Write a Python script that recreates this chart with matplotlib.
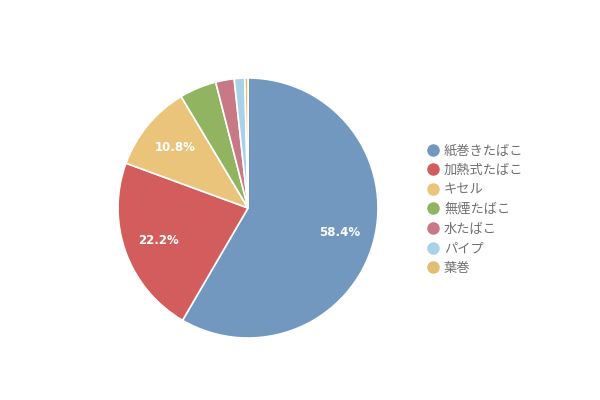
import matplotlib
matplotlib.use('Agg')
import matplotlib.pyplot as plt
from matplotlib.lines import Line2D

plt.rcParams['font.family'] = ['Noto Sans CJK JP', 'DejaVu Sans']

# data
labels = ['紙巻きたばこ', '加熱式たばこ', 'キセル', '無煙たばこ', '水たばこ', 'パイプ', '葉巻']
values = [58.4, 22.2, 10.8, 4.6, 2.3, 1.3, 0.4]
colors = ['#7298bf', '#d35d5c', '#e9c47a', '#91b461', '#c97985', '#a9d2e8', '#e3bd72']

fig = plt.figure(figsize=(6, 4), dpi=100)
ax = fig.add_axes([118 / 600, 62 / 400, 260 / 600, 260 / 400])

def fmt(p):
    return '%.1f%%' % p if p > 8 else ''

wedges, texts, autotexts = ax.pie(values, colors=colors, startangle=90, counterclock=False,
                                  autopct=fmt, pctdistance=0.73,
                                  wedgeprops=dict(edgecolor='white', linewidth=1.2))
for t in autotexts:
    t.set_color('white')
    t.set_fontsize(8.5)
    t.set_fontweight('bold')
    t.set_family(['DejaVu Sans'])
ax.set_aspect('equal')
ax.set_xlim(-1, 1)
ax.set_ylim(-1, 1)

# legend
handles = [Line2D([], [], marker='o', linestyle='', markersize=8, markerfacecolor=c,
                  markeredgecolor=c) for c in colors]
fig.legend(handles, labels, loc='upper left', bbox_to_anchor=(421 / 600, 1 - 139 / 400),
           frameon=False, fontsize=9.5, labelcolor='#707070', handletextpad=0.35,
           labelspacing=0.5, borderaxespad=0, handlelength=1.0)

plt.savefig('out.png', dpi=100)
